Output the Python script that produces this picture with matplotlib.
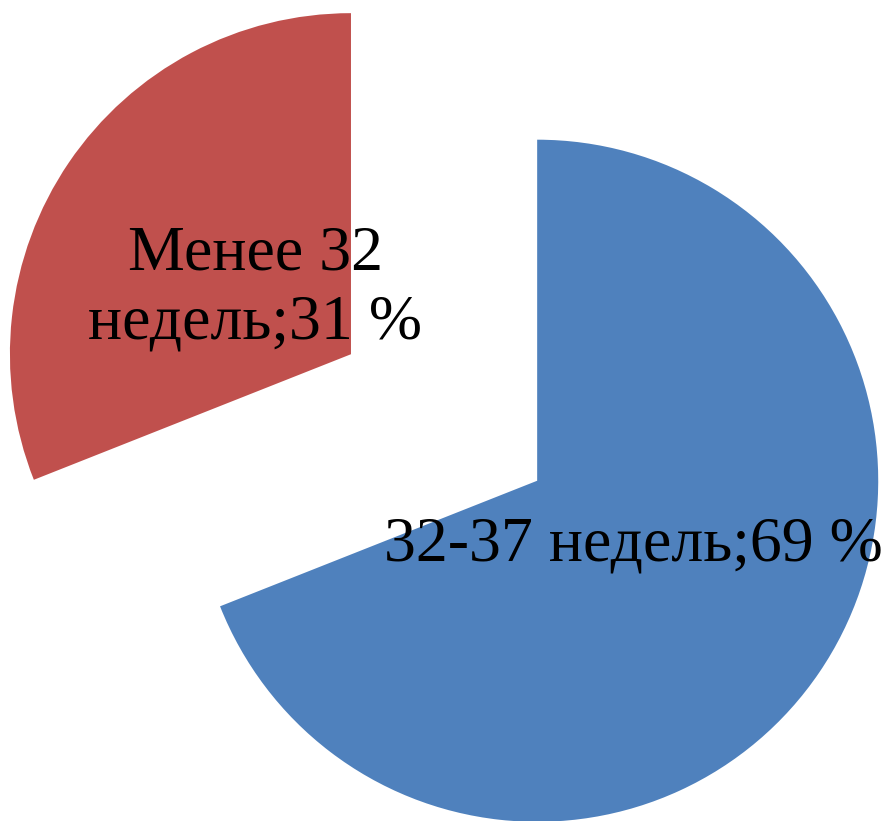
import numpy as np
import matplotlib
matplotlib.use("Agg")
import matplotlib.pyplot as plt

labels = ['32-37 недель', 'Менее 32\nнедель']
values = [69, 31]
colors = ['#4F81BD', '#C0504D']

fig = plt.figure(figsize=(8.82, 8.21), dpi=100)
ax = fig.add_axes([0, 0, 1, 1])

explode = [0.33, 0.33]
wedges, _ = ax.pie(values, colors=colors, startangle=90, counterclock=False,
                   explode=explode, radius=1.0,
                   wedgeprops=dict(linewidth=0))

# labels placed along each wedge's bisector, inside the wedge
for w, lab, v in zip(wedges, labels, values):
    mid = np.deg2rad((w.theta1 + w.theta2) / 2)
    cx, cy = w.center
    d = 0.34
    ax.text(cx + d * np.cos(mid), cy + d * np.sin(mid), f'{lab};{v} %',
            ha='center', va='center', fontsize=46, color='black',
            family='Liberation Serif', linespacing=1.25)

ax.set_xlim(-1.302, 1.284)
ax.set_ylim(-1.183, 1.224)
ax.set_aspect('equal')
ax.axis('off')

fig.savefig('out.png', dpi=100)
